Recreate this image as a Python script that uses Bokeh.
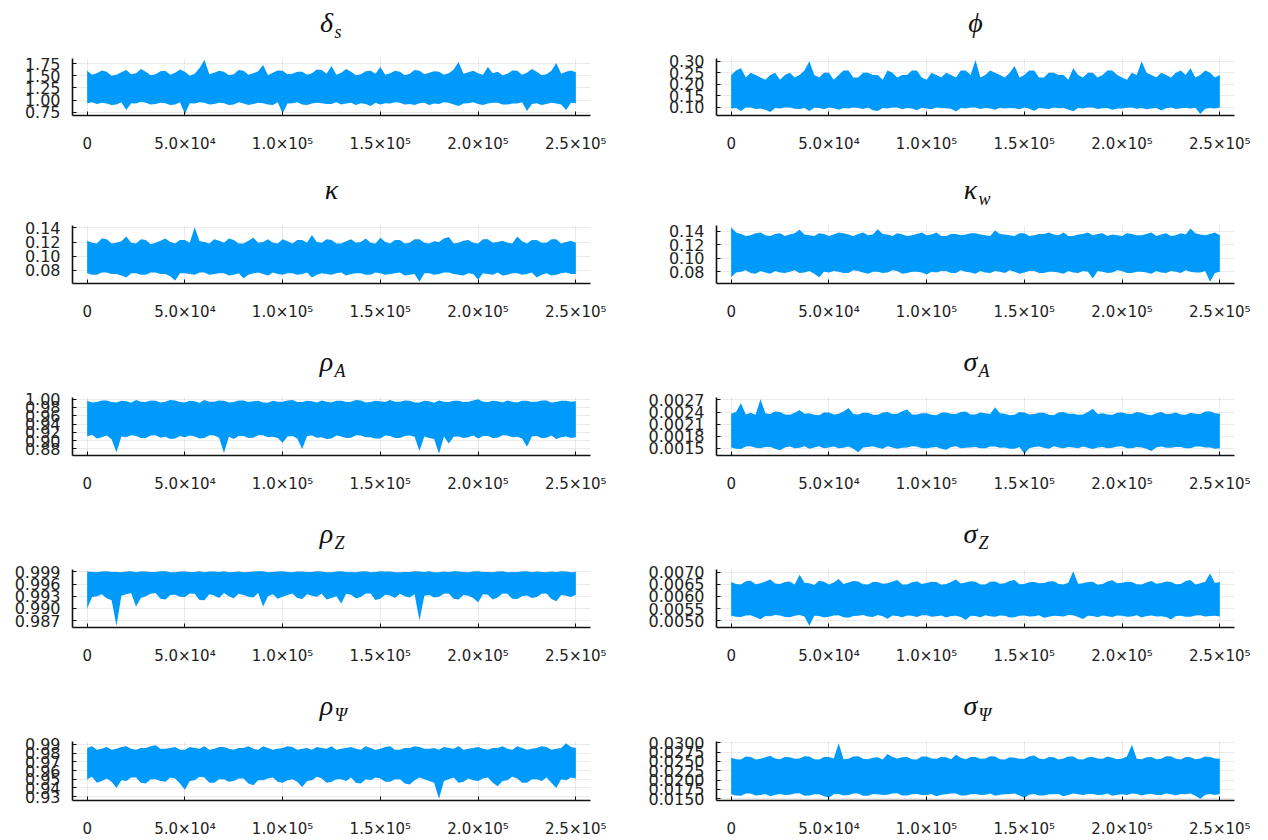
from bokeh.plotting import figure
from bokeh.models import Range1d, FixedTicker
from bokeh.core.properties import value
from bokeh.layouts import column, row
from bokeh.embed import file_html
from bokeh.resources import INLINE

# iteration grid: per-block envelope of each chain (every 2500 draws)
iterations = list(range(0, 250001, 2500))

x_ticks = [0, 50000, 100000, 150000, 200000, 250000]
x_tick_labels = ["0", "5.0×10⁴", "1.0×10⁵", "1.5×10⁵", "2.0×10⁵", "2.5×10⁵"]

# upper / lower envelope of each chain
ds_hi = [1.60,1.52,1.55,1.61,1.58,1.50,1.52,1.57,1.62,1.53, 1.55,1.64,1.58,1.51,1.53,1.59,1.60,1.52,1.56,1.63,
         1.58,1.50,1.54,1.66,1.82,1.53,1.56,1.60,1.58,1.51, 1.53,1.62,1.60,1.52,1.55,1.59,1.72,1.51,1.56,1.61,
         1.60,1.53,1.54,1.58,1.58,1.52,1.55,1.63,1.62,1.54, 1.70,1.52,1.56,1.64,1.58,1.51,1.53,1.59,1.60,1.54,
         1.68,1.52,1.55,1.60,1.58,1.51,1.54,1.62,1.60,1.53, 1.56,1.59,1.58,1.52,1.55,1.63,1.78,1.54,1.57,1.60,
         1.55,1.52,1.68,1.55,1.58,1.51,1.54,1.61,1.60,1.52, 1.56,1.64,1.58,1.51,1.53,1.60,1.76,1.54,1.58,1.61, 1.57]
ds_lo = [0.94,0.96,0.92,0.95,0.93,0.90,0.91,0.96,0.80,0.94, 0.93,0.97,0.95,0.91,0.92,0.95,0.94,0.90,0.91,0.96,
         0.72,0.94,0.93,0.96,0.95,0.91,0.92,0.95,0.94,0.90, 0.91,0.96,0.93,0.90,0.92,0.95,0.94,0.91,0.90,0.96,
         0.73,0.93,0.94,0.96,0.91,0.90,0.93,0.95,0.94,0.92, 0.92,0.96,0.91,0.93,0.95,0.90,0.94,0.92,0.88,0.95,
         0.91,0.94,0.93,0.96,0.95,0.91,0.92,0.90,0.94,0.95, 0.90,0.93,0.92,0.96,0.95,0.91,0.88,0.93,0.94,0.96,
         0.92,0.90,0.93,0.95,0.95,0.91,0.91,0.93,0.93,0.96, 0.78,0.92,0.94,0.90,0.92,0.95,0.93,0.91,0.80,0.95, 0.94]

phi_hi = [0.24,0.26,0.27,0.23,0.25,0.24,0.23,0.22,0.24,0.25, 0.22,0.24,0.25,0.23,0.24,0.26,0.30,0.24,0.23,0.25,
          0.25,0.22,0.24,0.26,0.26,0.23,0.23,0.25,0.25,0.24, 0.24,0.22,0.26,0.25,0.23,0.24,0.24,0.26,0.26,0.23,
          0.22,0.25,0.24,0.23,0.25,0.24,0.23,0.26,0.26,0.24, 0.305,0.23,0.24,0.26,0.25,0.24,0.23,0.25,0.28,0.23,
          0.24,0.26,0.26,0.23,0.23,0.25,0.25,0.24,0.24,0.22, 0.27,0.24,0.23,0.25,0.25,0.23,0.24,0.26,0.26,0.24,
          0.23,0.22,0.25,0.24,0.30,0.25,0.24,0.23,0.25,0.24, 0.23,0.25,0.26,0.24,0.27,0.23,0.24,0.26,0.25,0.23, 0.24]
phi_lo = [0.095,0.098,0.085,0.100,0.100,0.093,0.095,0.090,0.080,0.097, 0.095,0.100,0.100,0.094,0.093,0.097,0.085,0.099,0.097,0.092,
          0.100,0.096,0.090,0.098,0.095,0.100,0.097,0.093,0.100,0.088, 0.085,0.097,0.095,0.100,0.100,0.092,0.097,0.095,0.088,0.099,
          0.095,0.092,0.100,0.097,0.096,0.094,0.082,0.098,0.095,0.100, 0.100,0.093,0.097,0.095,0.090,0.099,0.095,0.097,0.096,0.092,
          0.100,0.094,0.086,0.098,0.095,0.093,0.100,0.096,0.097,0.091, 0.083,0.097,0.095,0.100,0.100,0.093,0.096,0.098,0.090,0.095,
          0.095,0.099,0.100,0.094,0.097,0.092,0.095,0.098,0.087,0.096, 0.100,0.093,0.096,0.097,0.095,0.099,0.072,0.094,0.097,0.095, 0.100]

k_hi = [0.122,0.119,0.118,0.125,0.124,0.118,0.119,0.121,0.128,0.119, 0.118,0.124,0.123,0.117,0.119,0.122,0.125,0.120,0.118,0.123,
        0.123,0.119,0.141,0.121,0.120,0.118,0.124,0.122,0.119,0.125, 0.123,0.118,0.118,0.122,0.126,0.119,0.120,0.124,0.119,0.118,
        0.124,0.121,0.118,0.123,0.123,0.119,0.130,0.120,0.119,0.124, 0.123,0.118,0.118,0.121,0.124,0.119,0.120,0.125,0.119,0.118,
        0.126,0.120,0.118,0.123,0.123,0.118,0.119,0.124,0.124,0.119, 0.118,0.121,0.120,0.125,0.127,0.118,0.119,0.122,0.123,0.119,
        0.118,0.124,0.124,0.119,0.120,0.122,0.119,0.118,0.128,0.121, 0.118,0.123,0.123,0.119,0.119,0.124,0.124,0.118,0.120,0.122, 0.119]
k_lo = [0.076,0.074,0.074,0.077,0.077,0.075,0.075,0.073,0.070,0.076, 0.076,0.074,0.074,0.077,0.077,0.075,0.075,0.072,0.066,0.076,
        0.076,0.075,0.074,0.077,0.077,0.074,0.075,0.076,0.076,0.073, 0.074,0.076,0.069,0.074,0.076,0.077,0.075,0.073,0.077,0.075,
        0.074,0.076,0.076,0.074,0.075,0.077,0.070,0.074,0.076,0.075, 0.074,0.076,0.077,0.073,0.075,0.076,0.076,0.074,0.074,0.077,
        0.076,0.074,0.075,0.076,0.077,0.073,0.074,0.075,0.064,0.076, 0.076,0.074,0.075,0.077,0.077,0.075,0.074,0.073,0.076,0.075,
        0.067,0.076,0.075,0.074,0.077,0.073,0.074,0.076,0.076,0.074, 0.075,0.077,0.070,0.074,0.076,0.073,0.074,0.076,0.077,0.075, 0.075]

kw_hi = [0.146,0.138,0.136,0.133,0.134,0.137,0.138,0.134,0.133,0.136, 0.137,0.133,0.135,0.137,0.142,0.135,0.134,0.133,0.137,0.136,
         0.133,0.135,0.138,0.137,0.135,0.133,0.136,0.138,0.134,0.135, 0.143,0.136,0.135,0.133,0.137,0.135,0.133,0.134,0.136,0.138,
         0.134,0.135,0.138,0.133,0.133,0.136,0.136,0.134,0.135,0.137, 0.137,0.135,0.134,0.133,0.141,0.136,0.135,0.134,0.133,0.137,
         0.137,0.133,0.134,0.136,0.136,0.138,0.135,0.134,0.138,0.133, 0.133,0.135,0.136,0.138,0.134,0.136,0.137,0.133,0.135,0.134,
         0.133,0.137,0.136,0.134,0.134,0.136,0.138,0.133,0.135,0.137, 0.133,0.134,0.137,0.135,0.144,0.137,0.135,0.134,0.136,0.138, 0.134]
kw_lo = [0.072,0.079,0.080,0.082,0.078,0.077,0.081,0.079,0.077,0.081, 0.079,0.078,0.080,0.082,0.078,0.079,0.081,0.077,0.072,0.080,
         0.079,0.081,0.080,0.078,0.078,0.082,0.081,0.079,0.077,0.080, 0.080,0.078,0.079,0.082,0.081,0.077,0.078,0.080,0.080,0.079,
         0.076,0.080,0.079,0.081,0.081,0.078,0.078,0.082,0.080,0.079, 0.077,0.081,0.079,0.078,0.081,0.080,0.078,0.082,0.080,0.077,
         0.079,0.081,0.081,0.078,0.078,0.080,0.080,0.079,0.077,0.081, 0.079,0.078,0.081,0.080,0.070,0.081,0.080,0.078,0.079,0.082,
         0.081,0.078,0.078,0.080,0.080,0.079,0.077,0.081,0.079,0.078, 0.081,0.080,0.078,0.082,0.080,0.079,0.079,0.081,0.065,0.078, 0.080]

rA_hi = [0.996,0.992,0.993,0.997,0.997,0.993,0.992,0.996,0.995,0.991, 0.998,0.994,0.993,0.997,0.996,0.992,0.994,0.998,0.997,0.993,
         0.992,0.996,0.995,0.991,0.998,0.994,0.994,0.997,0.996,0.992, 0.993,0.997,0.997,0.993,0.995,0.996,0.992,0.991,0.996,0.994,
         0.994,0.997,0.998,0.993,0.993,0.996,0.995,0.992,0.997,0.994, 0.992,0.996,0.996,0.993,0.994,0.998,0.997,0.992,0.993,0.996,
         0.995,0.993,0.998,0.994,0.994,0.997,0.996,0.992,0.992,0.996, 0.995,0.991,0.997,0.994,0.993,0.996,0.996,0.993,0.994,0.997,
         1.000,0.994,0.993,0.996,0.995,0.992,0.997,0.994,0.992,0.996, 0.996,0.993,0.994,0.997,0.997,0.992,0.993,0.996,0.996,0.994, 0.995]
rA_lo = [0.910,0.914,0.905,0.908,0.912,0.903,0.872,0.910,0.908,0.913, 0.911,0.906,0.906,0.912,0.913,0.907,0.909,0.904,0.905,0.911,
         0.908,0.912,0.910,0.905,0.906,0.913,0.912,0.907,0.870,0.909, 0.904,0.911,0.911,0.906,0.907,0.913,0.913,0.908,0.909,0.906,
         0.895,0.910,0.911,0.905,0.880,0.911,0.912,0.907,0.908,0.904, 0.905,0.912,0.910,0.906,0.907,0.913,0.912,0.908,0.908,0.905,
         0.905,0.912,0.911,0.906,0.906,0.911,0.912,0.909,0.875,0.910, 0.906,0.904,0.868,0.910,0.893,0.909,0.910,0.906,0.908,0.912,
         0.905,0.911,0.911,0.906,0.907,0.913,0.912,0.908,0.909,0.905, 0.885,0.910,0.911,0.906,0.907,0.912,0.904,0.908,0.910,0.906, 0.908]

sA_hi = [0.00236,0.00240,0.00262,0.00234,0.00238,0.00233,0.00272,0.00237,0.00235,0.00241, 0.00240,0.00234,0.00233,0.00238,0.00245,0.00236,0.00237,0.00233,0.00232,0.00239,
         0.00239,0.00234,0.00236,0.00241,0.00250,0.00235,0.00234,0.00238,0.00238,0.00233, 0.00233,0.00239,0.00240,0.00235,0.00236,0.00242,0.00246,0.00234,0.00234,0.00237,
         0.00237,0.00233,0.00232,0.00238,0.00239,0.00236,0.00235,0.00240,0.00241,0.00234, 0.00234,0.00239,0.00237,0.00235,0.00252,0.00237,0.00236,0.00232,0.00233,0.00240,
         0.00239,0.00234,0.00235,0.00238,0.00238,0.00233,0.00232,0.00239,0.00240,0.00236, 0.00236,0.00233,0.00234,0.00240,0.00248,0.00235,0.00237,0.00234,0.00233,0.00238,
         0.00239,0.00236,0.00235,0.00240,0.00238,0.00234,0.00232,0.00237,0.00240,0.00235, 0.00236,0.00239,0.00234,0.00233,0.00238,0.00236,0.00235,0.00241,0.00242,0.00237, 0.00236]
sA_lo = [0.00152,0.00149,0.00148,0.00154,0.00155,0.00151,0.00150,0.00153,0.00153,0.00149, 0.00145,0.00152,0.00154,0.00150,0.00151,0.00155,0.00149,0.00152,0.00155,0.00150,
         0.00152,0.00154,0.00150,0.00151,0.00154,0.00149,0.00140,0.00152,0.00153,0.00155, 0.00151,0.00149,0.00155,0.00152,0.00149,0.00151,0.00152,0.00155,0.00154,0.00150,
         0.00150,0.00152,0.00153,0.00149,0.00146,0.00153,0.00155,0.00150,0.00151,0.00152, 0.00153,0.00150,0.00150,0.00154,0.00154,0.00151,0.00152,0.00149,0.00149,0.00153,
         0.00136,0.00150,0.00153,0.00154,0.00151,0.00149,0.00155,0.00152,0.00150,0.00153, 0.00152,0.00150,0.00154,0.00151,0.00148,0.00152,0.00153,0.00150,0.00151,0.00154,
         0.00155,0.00150,0.00150,0.00153,0.00152,0.00149,0.00143,0.00152,0.00154,0.00151, 0.00151,0.00153,0.00153,0.00150,0.00150,0.00154,0.00154,0.00152,0.00152,0.00149, 0.00150]

rZ_hi = [0.9991,0.9990,0.9989,0.9991,0.9992,0.9990,0.9990,0.9989,0.9991,0.9992, 0.9989,0.9991,0.9991,0.9990,0.9990,0.9992,0.9992,0.9989,0.9989,0.9991,
         0.9991,0.9990,0.9990,0.9992,0.9989,0.9991,0.9991,0.9990,0.9992,0.9989, 0.9990,0.9991,0.9989,0.9990,0.9991,0.9992,0.9992,0.9989,0.9990,0.9991,
         0.9992,0.9990,0.9989,0.9991,0.9991,0.9990,0.9990,0.9992,0.9991,0.9989, 0.9989,0.9991,0.9992,0.9990,0.9990,0.9989,0.9991,0.9992,0.9989,0.9990,
         0.9992,0.9991,0.9991,0.9989,0.9989,0.9990,0.9990,0.9992,0.9991,0.9990, 0.9992,0.9989,0.9989,0.9991,0.9990,0.9992,0.9991,0.9990,0.9989,0.9991,
         0.9992,0.9990,0.9990,0.9989,0.9991,0.9992,0.9989,0.9990,0.9990,0.9991, 0.9992,0.9989,0.9991,0.9990,0.9989,0.9991,0.9990,0.9992,0.9991,0.9989, 0.9990]
rZ_lo = [0.9900,0.9928,0.9930,0.9935,0.9925,0.9920,0.9857,0.9931,0.9935,0.9938, 0.9905,0.9926,0.9930,0.9936,0.9938,0.9924,0.9922,0.9933,0.9934,0.9929,
         0.9928,0.9937,0.9936,0.9921,0.9920,0.9935,0.9932,0.9926,0.9938,0.9930, 0.9925,0.9936,0.9933,0.9929,0.9927,0.9938,0.9905,0.9930,0.9935,0.9924,
         0.9929,0.9933,0.9937,0.9926,0.9923,0.9935,0.9931,0.9929,0.9936,0.9922, 0.9926,0.9930,0.9912,0.9936,0.9934,0.9925,0.9928,0.9937,0.9937,0.9921,
         0.9924,0.9934,0.9932,0.9926,0.9936,0.9930,0.9927,0.9935,0.9870,0.9931, 0.9933,0.9927,0.9929,0.9936,0.9937,0.9924,0.9922,0.9933,0.9931,0.9926,
         0.9915,0.9935,0.9934,0.9922,0.9927,0.9937,0.9936,0.9924,0.9923,0.9930, 0.9932,0.9926,0.9928,0.9936,0.9937,0.9923,0.9918,0.9933,0.9931,0.9928, 0.9934]

sZ_hi = [0.00660,0.00652,0.00650,0.00663,0.00665,0.00651,0.00655,0.00662,0.00670,0.00654, 0.00652,0.00660,0.00662,0.00650,0.00690,0.00657,0.00655,0.00648,0.00665,0.00661,
         0.00650,0.00658,0.00672,0.00652,0.00658,0.00664,0.00662,0.00651,0.00650,0.00660, 0.00660,0.00653,0.00655,0.00662,0.00668,0.00650,0.00650,0.00659,0.00663,0.00652,
         0.00656,0.00661,0.00660,0.00649,0.00652,0.00660,0.00670,0.00654,0.00658,0.00663, 0.00661,0.00650,0.00650,0.00661,0.00662,0.00653,0.00655,0.00664,0.00668,0.00651,
         0.00652,0.00659,0.00660,0.00655,0.00656,0.00662,0.00663,0.00652,0.00650,0.00657, 0.00705,0.00653,0.00655,0.00660,0.00661,0.00649,0.00652,0.00662,0.00667,0.00655,
         0.00657,0.00661,0.00660,0.00651,0.00650,0.00658,0.00664,0.00653,0.00656,0.00662, 0.00660,0.00651,0.00652,0.00664,0.00668,0.00650,0.00655,0.00661,0.00695,0.00656, 0.00660]
sZ_lo = [0.00520,0.00516,0.00515,0.00521,0.00522,0.00514,0.00505,0.00519,0.00518,0.00523, 0.00521,0.00515,0.00514,0.00520,0.00523,0.00517,0.00478,0.00520,0.00519,0.00513,
         0.00516,0.00521,0.00522,0.00514,0.00512,0.00519,0.00520,0.00523,0.00517,0.00515, 0.00523,0.00518,0.00508,0.00521,0.00519,0.00514,0.00521,0.00520,0.00515,0.00522,
         0.00522,0.00516,0.00518,0.00521,0.00513,0.00519,0.00520,0.00515,0.00502,0.00520, 0.00519,0.00514,0.00522,0.00518,0.00516,0.00521,0.00520,0.00513,0.00514,0.00520,
         0.00521,0.00517,0.00518,0.00522,0.00512,0.00516,0.00520,0.00519,0.00517,0.00523, 0.00522,0.00515,0.00506,0.00520,0.00519,0.00514,0.00521,0.00518,0.00515,0.00521,
         0.00520,0.00516,0.00517,0.00522,0.00513,0.00519,0.00521,0.00517,0.00518,0.00515, 0.00504,0.00519,0.00520,0.00516,0.00516,0.00521,0.00522,0.00517,0.00519,0.00520, 0.00517]

rP_hi = [0.986,0.988,0.984,0.985,0.987,0.984,0.985,0.987,0.988,0.985, 0.984,0.986,0.986,0.988,0.989,0.985,0.985,0.986,0.987,0.984,
         0.984,0.987,0.986,0.985,0.988,0.984,0.985,0.987,0.987,0.985, 0.984,0.986,0.986,0.988,0.985,0.984,0.988,0.986,0.984,0.985,
         0.986,0.988,0.987,0.984,0.985,0.986,0.984,0.987,0.986,0.985, 0.988,0.984,0.985,0.986,0.987,0.985,0.984,0.988,0.986,0.984,
         0.985,0.987,0.988,0.984,0.984,0.986,0.986,0.988,0.987,0.985, 0.985,0.986,0.984,0.987,0.986,0.985,0.988,0.984,0.985,0.986,
         0.987,0.985,0.984,0.986,0.986,0.988,0.985,0.984,0.988,0.986, 0.984,0.985,0.986,0.988,0.987,0.984,0.985,0.986,0.9915,0.987, 0.986]
rP_lo = [0.950,0.953,0.946,0.948,0.951,0.947,0.940,0.949,0.948,0.952, 0.952,0.946,0.945,0.950,0.950,0.948,0.947,0.952,0.951,0.945,
         0.938,0.948,0.949,0.953,0.952,0.946,0.946,0.950,0.950,0.947, 0.948,0.951,0.951,0.945,0.943,0.949,0.949,0.951,0.952,0.947,
         0.946,0.949,0.950,0.947,0.941,0.948,0.949,0.953,0.951,0.946, 0.947,0.950,0.950,0.948,0.952,0.946,0.945,0.950,0.949,0.952,
         0.951,0.947,0.947,0.950,0.950,0.945,0.944,0.949,0.952,0.950, 0.948,0.946,0.9275,0.948,0.950,0.952,0.946,0.947,0.951,0.949,
         0.948,0.951,0.952,0.946,0.942,0.948,0.949,0.953,0.951,0.946, 0.946,0.950,0.950,0.948,0.952,0.946,0.940,0.950,0.949,0.952, 0.951]

sP_hi = [0.0260,0.0256,0.0255,0.0263,0.0262,0.0255,0.0257,0.0261,0.0265,0.0258, 0.0256,0.0262,0.0261,0.0257,0.0258,0.0264,0.0263,0.0256,0.0255,0.0262,
         0.0262,0.0258,0.0299,0.0256,0.0257,0.0263,0.0264,0.0257,0.0256,0.0260, 0.0261,0.0255,0.0270,0.0262,0.0258,0.0261,0.0262,0.0256,0.0255,0.0263,
         0.0263,0.0258,0.0257,0.0262,0.0261,0.0256,0.0268,0.0260,0.0256,0.0262, 0.0262,0.0257,0.0258,0.0264,0.0263,0.0256,0.0255,0.0261,0.0260,0.0257,
         0.0257,0.0263,0.0266,0.0258,0.0256,0.0262,0.0261,0.0255,0.0258,0.0263, 0.0263,0.0256,0.0255,0.0261,0.0262,0.0258,0.0257,0.0263,0.0260,0.0256,
         0.0258,0.0263,0.0295,0.0257,0.0256,0.0261,0.0262,0.0256,0.0257,0.0264, 0.0264,0.0257,0.0255,0.0262,0.0261,0.0256,0.0258,0.0263,0.0262,0.0258, 0.0257]
sP_lo = [0.0162,0.0159,0.0158,0.0164,0.0164,0.0159,0.0160,0.0163,0.0157,0.0161, 0.0163,0.0160,0.0161,0.0164,0.0165,0.0158,0.0159,0.0162,0.0162,0.0157,
         0.0153,0.0162,0.0163,0.0159,0.0160,0.0164,0.0164,0.0158,0.0158,0.0163, 0.0162,0.0160,0.0161,0.0164,0.0165,0.0159,0.0159,0.0162,0.0163,0.0160,
         0.0160,0.0163,0.0157,0.0161,0.0162,0.0164,0.0164,0.0159,0.0159,0.0162, 0.0163,0.0160,0.0161,0.0164,0.0158,0.0161,0.0162,0.0163,0.0164,0.0159,
         0.0153,0.0161,0.0163,0.0159,0.0159,0.0162,0.0162,0.0163,0.0157,0.0160, 0.0164,0.0162,0.0160,0.0163,0.0163,0.0160,0.0161,0.0164,0.0158,0.0161,
         0.0162,0.0160,0.0164,0.0163,0.0159,0.0162,0.0163,0.0160,0.0160,0.0164, 0.0162,0.0159,0.0163,0.0162,0.0164,0.0158,0.0150,0.0161,0.0163,0.0160, 0.0163]

# y tick labels per parameter
ds_ticks = ["0.75", "1.00", "1.25", "1.50", "1.75"]
phi_ticks = ["0.10", "0.15", "0.20", "0.25", "0.30"]
k_ticks = ["0.08", "0.10", "0.12", "0.14"]
kw_ticks = ["0.08", "0.10", "0.12", "0.14"]
rA_ticks = ["0.88", "0.90", "0.92", "0.94", "0.96", "0.98", "1.00"]
sA_ticks = ["0.0015", "0.0018", "0.0021", "0.0024", "0.0027"]
rZ_ticks = ["0.987", "0.990", "0.993", "0.996", "0.999"]
sZ_ticks = ["0.0050", "0.0055", "0.0060", "0.0065", "0.0070"]
rP_ticks = ["0.93", "0.94", "0.95", "0.96", "0.97", "0.98", "0.99"]
sP_ticks = ["0.0150", "0.0175", "0.0200", "0.0225", "0.0250", "0.0275", "0.0300"]

panels = [
    ("δ", "s", ds_hi, ds_lo, ds_ticks),
    ("ϕ", "", phi_hi, phi_lo, phi_ticks),
    ("κ", "", k_hi, k_lo, k_ticks),
    ("κ", "w", kw_hi, kw_lo, kw_ticks),
    ("ρ", "A", rA_hi, rA_lo, rA_ticks),
    ("σ", "A", sA_hi, sA_lo, sA_ticks),
    ("ρ", "Z", rZ_hi, rZ_lo, rZ_ticks),
    ("σ", "Z", sZ_hi, sZ_lo, sZ_ticks),
    ("ρ", "Ψ", rP_hi, rP_lo, rP_ticks),
    ("σ", "Ψ", sP_hi, sP_lo, sP_ticks),
]

BLUE = "#009AFA"
X_MIN, X_MAX = -7500, 257500
FRAME_W = 518
# (title band above the axes, axes height, bottom border) for each row
ROWS = [(58, 57, 56), (54, 58, 60), (54, 58, 60), (54, 58, 60), (54, 59, 40)]
# (left border, right border) for each column
COLS = [(72, 44), (82, 34)]
SERIF = value("Liberation Serif")
ITALIC = value("italic")


def trace_panel(sym, sub, hi, lo, ticks, r, c):
    if len(hi) != len(iterations) or len(lo) != len(iterations):
        raise ValueError(f"envelope length mismatch for {sym}{sub}")
    band, fh, bottom = ROWS[r]
    bl, br = COLS[c]
    span = max(hi) - min(lo)
    y0 = min(lo) - 0.03 * span
    y1 = max(hi) + 0.03 * span
    upp_y = (y1 - y0) / fh
    upp_x = (X_MAX - X_MIN) / FRAME_W
    # the frame also holds the title band; axis and grid stop at y1
    p = figure(width=bl + FRAME_W + br, height=band + fh + bottom,
               x_range=Range1d(X_MIN, X_MAX),
               y_range=Range1d(y0, y1 + band * upp_y),
               output_backend="svg", toolbar_location=None,
               min_border_left=bl, min_border_right=br,
               min_border_top=0, min_border_bottom=bottom,
               outline_line_color=None)
    p.varea(x=iterations, y1=lo, y2=hi, fill_color=BLUE)

    p.xaxis.ticker = FixedTicker(ticks=x_ticks)
    p.xaxis.major_label_overrides = dict(zip(x_ticks, x_tick_labels))
    yvals = [float(t) for t in ticks]
    p.yaxis.ticker = FixedTicker(ticks=yvals)
    p.yaxis.major_label_overrides = dict(zip(yvals, ticks))
    p.yaxis.bounds = (y0, y1)

    for ax in (p.xaxis, p.yaxis):
        ax.minor_tick_line_color = None
        ax.major_tick_in = 4
        ax.major_tick_out = 0
        ax.axis_line_width = 1.6
        ax.axis_line_color = "#111111"
        ax.major_tick_line_color = "#111111"
        ax.major_label_text_font = "DejaVu Sans"
        ax.major_label_text_color = "#222222"
    p.yaxis.major_label_text_font_size = "16px"
    p.xaxis.major_label_text_font_size = "15px"
    p.yaxis.major_label_standoff = 12
    p.xaxis.major_label_standoff = 19
    p.grid.grid_line_color = "#000000"
    p.grid.grid_line_alpha = 0.08
    p.xgrid.cross_bounds = (y0, y1)

    # title: symbol with subscript, centred above the axes
    xc = (X_MIN + X_MAX) / 2
    shift = -5 if sub else 0
    p.text(x=[xc + shift * upp_x], y=[y1 + 36 * upp_y], text=[sym],
           text_font=SERIF, text_font_style=ITALIC, text_font_size="28px",
           text_align="center", text_baseline="middle", text_color="#111111")
    if sub:
        p.text(x=[xc + 3 * upp_x], y=[y1 + 27 * upp_y], text=[sub],
               text_font=SERIF, text_font_style=ITALIC, text_font_size="18px",
               text_align="left", text_baseline="middle", text_color="#111111")
    return p


rows = []
for r in range(5):
    figs = [trace_panel(*panels[2 * r + c], r, c) for c in range(2)]
    rows.append(row(*figs, spacing=0))
layout = column(*rows, spacing=0)

open("out.html", "w").write(file_html(layout, INLINE))
